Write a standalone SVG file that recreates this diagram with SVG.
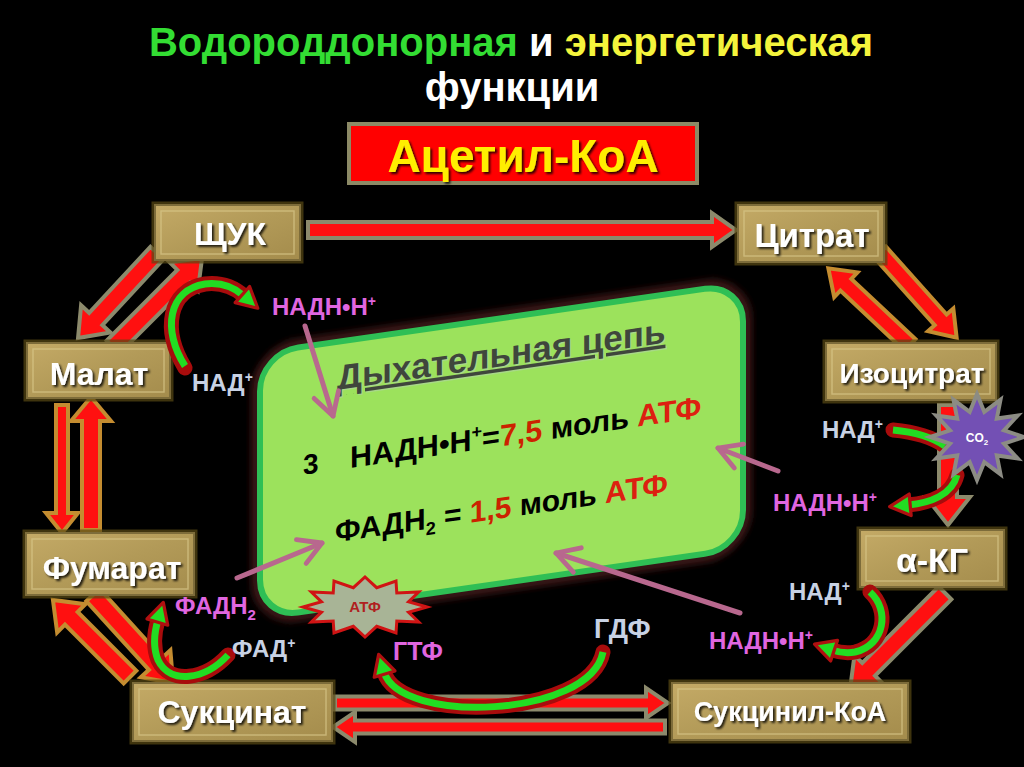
<svg xmlns="http://www.w3.org/2000/svg" width="1024" height="767" viewBox="0 0 1024 767">
<defs>
<linearGradient id="tan" x1="0" y1="0" x2="1" y2="1">
<stop offset="0" stop-color="#c4aa66"/><stop offset="0.5" stop-color="#b29a58"/><stop offset="1" stop-color="#a48c4c"/>
</linearGradient>
<filter id="sh" x="-10%" y="-10%" width="130%" height="140%"><feDropShadow dx="2" dy="2" stdDeviation="1" flood-color="#000" flood-opacity="0.8"/></filter>
<filter id="glow" x="-10%" y="-20%" width="120%" height="140%"><feGaussianBlur stdDeviation="3"/></filter>
<marker id="gh" viewBox="0 0 24 24" refX="5" refY="12" markerWidth="26" markerHeight="26" markerUnits="userSpaceOnUse" orient="auto">
<path d="M3,2 L22,12 L3,22 Z" fill="#22dd22" stroke="#b01010" stroke-width="3" stroke-linejoin="round"/>
</marker>
<marker id="pk" viewBox="0 0 20 20" refX="18" refY="10" markerWidth="32" markerHeight="32" markerUnits="userSpaceOnUse" orient="auto">
<path d="M4,2 L18,10 L4,18" fill="none" stroke="#b8688e" stroke-width="3" stroke-linecap="round" stroke-linejoin="round"/>
</marker>
</defs>
<style>
.node rect.bg{fill:url(#tan);stroke:#7d6c3a;stroke-width:2}
.node rect.gl{fill:none;stroke:#5a4a14;stroke-width:7;opacity:.7}
.node rect.in{fill:none;stroke:#d6c488;stroke-width:1.5;opacity:.7}
.node text{font-family:"Liberation Sans",Arial,sans-serif;font-weight:bold;fill:#fff;text-anchor:middle;filter:url(#sh)}
.ba{fill:#ff1010;stroke-width:4;stroke-linejoin:miter}
.g1{stroke:#8c8a6c}
.o1{stroke:#c48c30}
.cr{fill:none;stroke:#a80c0c;stroke-width:15;stroke-linecap:round}
.cg{fill:none;stroke:#22dd22;stroke-width:7;stroke-linecap:butt}
.pa{fill:none;stroke:#b8688e;stroke-width:5;stroke-linecap:round}
.lb{font-family:"Liberation Sans",Arial,sans-serif;font-weight:bold;font-size:24px}
.mg{fill:#e066e0}
.lg{fill:#c8d2e4}
</style>
<rect width="1024" height="767" fill="#000"/>

<g id="title" font-family="Liberation Sans, Arial, sans-serif" font-weight="bold" text-anchor="middle">
<text x="511" y="56" font-size="40"><tspan fill="#33dd33">Водороддонорная</tspan><tspan fill="#ffffff"> и </tspan><tspan fill="#f4f43c">энергетическая</tspan></text>
<text x="512" y="101" font-size="40" fill="#ffffff">функции</text>
</g>

<g id="acetyl">
<rect x="349" y="124" width="348" height="59" fill="#ff0000" stroke="#8c8a66" stroke-width="4"/>
<text x="523" y="172" font-family="Liberation Sans, Arial, sans-serif" font-weight="bold" font-size="46" fill="#ffee00" text-anchor="middle" filter="url(#sh)">Ацетил-КоА</text>
</g>

<g id="resp-chain" transform="translate(260,353) skewY(-8.2)">
<rect x="-4" y="-4" width="491" height="273" rx="42" fill="none" stroke="#3a1412" stroke-width="10" filter="url(#glow)"/>
<rect x="0" y="0" width="483" height="265" rx="38" fill="#9ce25c" stroke="#2fbf55" stroke-width="6"/>
<g font-family="Liberation Sans, Arial, sans-serif" font-weight="bold">
<text x="77" y="48" font-size="35" fill="#a8d888" text-decoration="underline" transform="translate(1.5,1.5)">Дыхательная цепь</text>
<text x="77" y="48" font-size="35" fill="#3f463c" text-decoration="underline">Дыхательная цепь</text>
<text x="43" y="128" font-size="28" fill="#000">3</text>
<text x="90" y="128" font-size="30.5" fill="#000">НАДН•Н<tspan font-size="18" dy="-12">+</tspan><tspan dy="12">=</tspan><tspan fill="#cc2200">7,5</tspan> моль <tspan fill="#dd2010">АТФ</tspan></text>
<text x="75" y="200" font-size="30" fill="#000">ФАДН<tspan font-size="18" dy="6">2</tspan><tspan dy="-6"> = </tspan><tspan fill="#cc2200">1,5</tspan> моль <tspan fill="#dd2010">АТФ</tspan></text>
</g>
</g>

<g id="connectors">
<polygon class="ba g1" transform="translate(308,230)" points="0,-8 404,-8 404,-17 428,0 404,17 404,8 0,8"/>
<polygon class="ba o1" transform="translate(880,252) rotate(48.2)" points="0,-8 91,-8 91,-17 115,0 91,17 91,8 0,8"/>
<polygon class="ba o1" transform="translate(910,345) rotate(223.2)" points="0,-8 88,-8 88,-17 112,0 88,17 88,8 0,8"/>
<polygon class="ba g1" transform="translate(948,405) rotate(90)" points="0,-9 92,-9 92,-22 120,0 92,22 92,9 0,9"/>
<polygon class="ba g1" transform="translate(945,593) rotate(135)" points="0,-9 108,-9 108,-20 134,0 108,20 108,9 0,9"/>
<polygon class="ba g1" transform="translate(335,703)" points="0,-6.5 311,-6.5 311,-15 333,0 311,15 311,6.5 0,6.5"/>
<polygon class="ba g1" transform="translate(665,727) rotate(180)" points="0,-6.5 310,-6.5 310,-15 332,0 310,15 310,6.5 0,6.5"/>
<polygon class="ba o1" transform="translate(130,677) rotate(225)" points="0,-9 83,-9 83,-20 109,0 83,20 83,9 0,9"/>
<polygon class="ba o1" transform="translate(93,595) rotate(47.7)" points="0,-9 93,-9 93,-20 119,0 93,20 93,9 0,9"/>
<polygon class="ba o1" transform="translate(62,405) rotate(90)" points="0,-6 108,-6 108,-16 128,0 108,16 108,6 0,6"/>
<polygon class="ba o1" transform="translate(91,530) rotate(-90)" points="0,-9 109,-9 109,-20 133,0 109,20 109,9 0,9"/>
<polygon class="ba g1" transform="translate(157,253) rotate(132.9)" points="0,-9 90,-9 90,-20 116,0 90,20 90,9 0,9"/>
<polygon class="ba g1" transform="translate(113,347) rotate(-45)" points="0,-9 100,-9 100,-20 126,0 100,20 100,9 0,9"/>
</g>

<g id="n-oxaloacetate" class="node"><rect class="gl" x="155" y="205" width="145" height="55"/><rect class="bg" x="155" y="205" width="145" height="55"/><rect class="in" x="161" y="211" width="133" height="43"/><text x="230" y="245" font-size="32">ЩУК</text></g>
<g id="n-citrate" class="node"><rect class="gl" x="738" y="205" width="146" height="57"/><rect class="bg" x="738" y="205" width="146" height="57"/><rect class="in" x="744" y="211" width="134" height="45"/><text x="812" y="247" font-size="33">Цитрат</text></g>
<g id="n-isocitrate" class="node"><rect class="gl" x="826" y="343" width="170" height="57"/><rect class="bg" x="826" y="343" width="170" height="57"/><rect class="in" x="832" y="349" width="158" height="45"/><text x="912" y="383" font-size="28">Изоцитрат</text></g>
<g id="n-malate" class="node"><rect class="gl" x="27" y="343" width="143" height="55"/><rect class="bg" x="27" y="343" width="143" height="55"/><rect class="in" x="33" y="349" width="131" height="43"/><text x="99" y="385" font-size="32">Малат</text></g>
<g id="n-akg" class="node"><rect class="gl" x="860" y="530" width="144" height="57"/><rect class="bg" x="860" y="530" width="144" height="57"/><rect class="in" x="866" y="536" width="132" height="45"/><text x="932" y="572" font-size="34">α-КГ</text></g>
<g id="n-fumarate" class="node"><rect class="gl" x="26" y="533" width="168" height="62"/><rect class="bg" x="26" y="533" width="168" height="62"/><rect class="in" x="32" y="539" width="156" height="50"/><text x="112" y="579" font-size="32">Фумарат</text></g>
<g id="n-succinate" class="node"><rect class="gl" x="133" y="683" width="199" height="58"/><rect class="bg" x="133" y="683" width="199" height="58"/><rect class="in" x="139" y="689" width="187" height="46"/><text x="232" y="723" font-size="32">Сукцинат</text></g>
<g id="n-succinylcoa" class="node"><rect class="gl" x="672" y="683" width="236" height="57"/><rect class="bg" x="672" y="683" width="236" height="57"/><rect class="in" x="678" y="689" width="224" height="45"/><text x="790" y="721" font-size="27">Сукцинил-КоА</text></g>

<g id="cofactor-curves">
<path class="cr" d="M185,368 C162,330 168,290 205,284 C222,282 235,288 244,296"/>
<path class="cg" d="M185,366 C162,330 168,290 205,284 C222,282 235,288 244,296" marker-end="url(#gh)"/>
<path class="cr" d="M893,430 C915,432 932,437 945,446"/>
<path class="cg" d="M893,430 C915,432 932,437 945,446"/>
<path class="cr" d="M957,475 C952,495 930,503 908,505"/>
<path class="cg" d="M957,475 C952,495 930,503 908,505" marker-end="url(#gh)"/>
<path class="cr" d="M870,592 C890,610 885,645 855,652 C845,654 838,652 832,650"/>
<path class="cg" d="M870,592 C890,610 885,645 855,652 C845,654 838,652 832,650" marker-end="url(#gh)"/>
<path class="cr" d="M228,655 C205,680 170,685 158,660 C152,645 155,630 158,620"/>
<path class="cg" d="M228,655 C205,680 170,685 158,660 C152,645 155,630 158,620" marker-end="url(#gh)"/>
<path class="cr" d="M603,652 C590,718 400,725 384,672"/>
<path class="cg" d="M603,652 C590,718 400,725 384,672" marker-end="url(#gh)"/>
</g>

<g id="co2">
<polygon points="1024,437 1004,443.7 1017.7,458.5 996.8,455.4 1000.5,474.2 984.3,462.1 977,480 969.7,462.1 953.5,474.2 957.2,455.4 936.3,458.5 950,443.7 930,437 950,430.3 936.3,415.5 957.2,418.6 953.5,399.8 969.7,411.9 977,394 984.3,411.9 1000.5,399.8 996.8,418.6 1017.7,415.5 1004,430.3" fill="#7350b4" stroke="#8c8c84" stroke-width="4" stroke-linejoin="miter"/>
<text x="977" y="442" font-family="Liberation Sans, Arial, sans-serif" font-weight="bold" font-size="12" fill="#ffffff" text-anchor="middle">CO<tspan font-size="8" dy="3">2</tspan></text>
</g>

<g id="atp">
<polygon points="427,607 408.5,612.2 418.7,622 396.8,621.1 396,633 376.7,626.3 365,637 353.3,626.3 334,633 333.2,621.1 311.3,622 321.5,612.2 303,607 321.5,601.8 311.3,592 333.2,592.9 334,581 353.3,587.7 365,577 376.7,587.7 396,581 396.8,592.9 418.7,592 408.5,601.8" fill="#a8b496" stroke="#d01414" stroke-width="3"/>
<text x="365" y="612" font-family="Liberation Sans, Arial, sans-serif" font-weight="bold" font-size="15" fill="#b02020" text-anchor="middle">АТФ</text>
</g>

<g id="labels" class="lb">
<text x="272" y="315" class="mg">НАДН•Н<tspan font-size="14" dy="-9">+</tspan></text>
<text x="192" y="391" class="lg">НАД<tspan font-size="14" dy="-9">+</tspan></text>
<text x="822" y="438" class="lg">НАД<tspan font-size="14" dy="-9">+</tspan></text>
<text x="773" y="511" class="mg">НАДН•Н<tspan font-size="14" dy="-9">+</tspan></text>
<text x="789" y="600" class="lg">НАД<tspan font-size="14" dy="-9">+</tspan></text>
<text x="709" y="649" class="mg">НАДН•Н<tspan font-size="14" dy="-9">+</tspan></text>
<text x="175" y="614" class="mg">ФАДН<tspan font-size="15" dy="6">2</tspan></text>
<text x="232" y="657" class="lg">ФАД<tspan font-size="14" dy="-9">+</tspan></text>
<text x="393" y="660" class="mg" font-size="25">ГТФ</text>
<text x="594" y="638" class="lg" font-size="27">ГДФ</text>
</g>

<g id="pink-arrows">
<path class="pa" d="M305,326 L333,416" marker-end="url(#pk)"/>
<path class="pa" d="M778,471 L718,448" marker-end="url(#pk)"/>
<path class="pa" d="M237,578 L322,543" marker-end="url(#pk)"/>
<path class="pa" d="M740,613 L556,553" marker-end="url(#pk)"/>
</g>
</svg>
